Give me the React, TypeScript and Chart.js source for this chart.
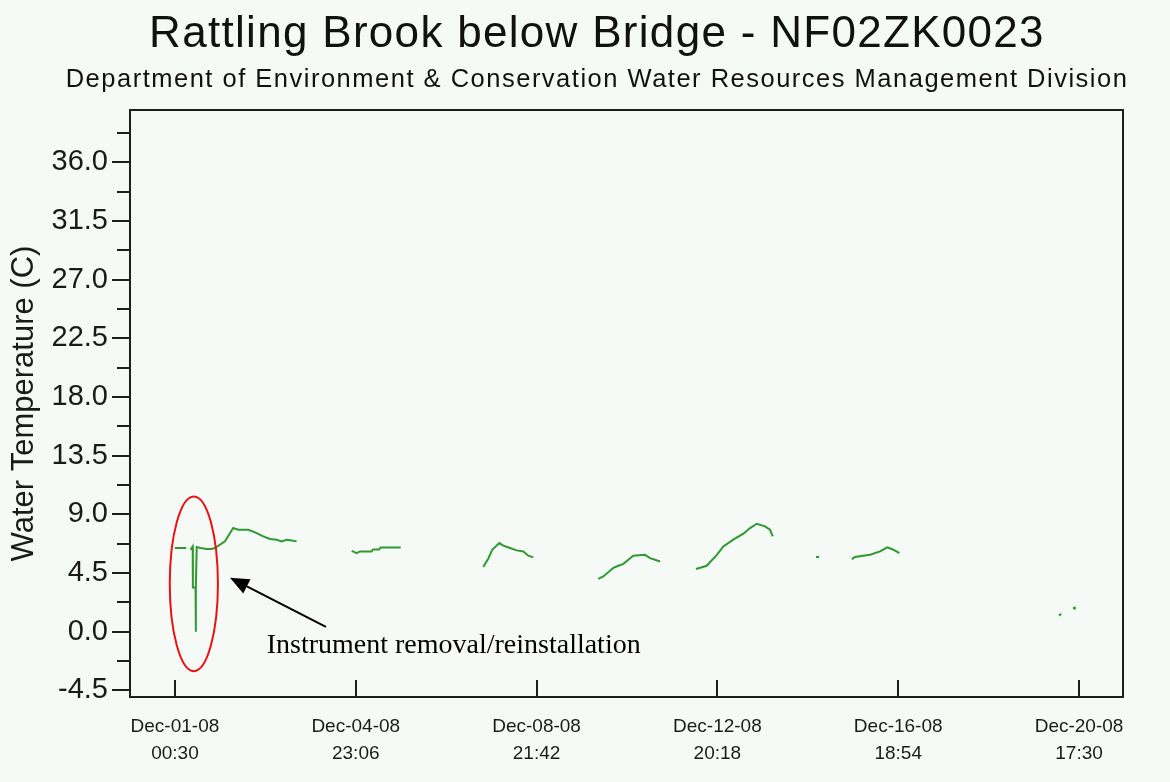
import React, { useEffect, useRef } from 'react';
import { Chart, registerables } from 'chart.js';

Chart.register(...registerables);

const TITLE = 'Rattling Brook below Bridge - NF02ZK0023';
const SUBTITLE = 'Department of Environment & Conservation Water Resources Management Division';
const Y_TITLE = 'Water Temperature (C)';
const NOTE = 'Instrument removal/reinstallation';

// Hours since Dec-01-08 00:30 (null temperature = logging gap)
const hoursSinceStart = [
  0, 5.9, 7.0,
  8.2, 9.3, 9.4, 10.8, 10.9, 11.0, 11.4, 13.5, 16.5, 19.0, 20.9, 26.2, 30.5, 33.1, 38.4, 41.9, 46.2, 49.7, 53.2, 55.8, 58.5, 61.1, 63.7,
  78,
  92.5, 95.1, 96.8, 102.9, 103.6, 106.8, 107.6, 118.1,
  140,
  161.3, 163.9, 166.0, 169.7, 171.8, 175.3, 178.8, 182.3, 184.9, 187.5,
  205,
  221.5, 224.1, 229.4, 232.0, 234.6, 237.2, 239.8, 245.9, 248.6, 253.8,
  263,
  272.6, 278.2, 283.5, 286.9, 292.1, 297.4, 300.9, 304.4, 308.7, 311.3, 312.8,
  324,
  335.4, 337.0,
  345,
  354.1, 355.8, 363.7, 368.9, 372.7, 375.9, 379.0,
  420,
  462.6, 463.6,
  467,
  470.6,
];
const waterTempC: (number | null)[] = [
  6.42, 6.42, null,
  6.29, 6.54, 3.40, 3.40, 0.00, 3.40, 6.50, 6.42, 6.35, 6.35, 6.42, 6.93, 7.95, 7.82, 7.82, 7.62, 7.31, 7.11, 7.06, 6.93, 7.06, 7.00, 6.93,
  null,
  6.20, 6.03, 6.16, 6.16, 6.31, 6.31, 6.47, 6.47,
  null,
  4.96, 5.60, 6.29, 6.80, 6.60, 6.42, 6.24, 6.16, 5.83, 5.70,
  null,
  4.06, 4.24, 4.90, 5.06, 5.21, 5.52, 5.83, 5.90, 5.65, 5.39,
  null,
  4.81, 5.06, 5.90, 6.54, 7.06, 7.52, 7.95, 8.28, 8.08, 7.82, 7.31,
  null,
  5.73, 5.73,
  null,
  5.57, 5.73, 5.90, 6.16, 6.47, 6.29, 6.03,
  null,
  1.23, 1.38,
  null,
  1.82,
];

const xTickHours = [0, 94.6, 189.2, 283.8, 378.4, 473.0];
const xTickDates = ['Dec-01-08', 'Dec-04-08', 'Dec-08-08', 'Dec-12-08', 'Dec-16-08', 'Dec-20-08'];
const xTickTimes = ['00:30', '23:06', '21:42', '20:18', '18:54', '17:30'];

const yTickValues = [-4.5, 0, 4.5, 9, 13.5, 18, 22.5, 27, 31.5, 36];
const yTickLabels = ['-4.5', '0.0', '4.5', '9.0', '13.5', '18.0', '22.5', '27.0', '31.5', '36.0'];
const yMinorTicks = [-2.25, 2.25, 6.75, 11.25, 15.75, 20.25, 24.75, 29.25, 33.75, 38.25];

// Annotation anchors in data units (hours, °C)
const ellipseCenter = { h: 9.9, t: 3.68 };
const ellipseRadius = { h: 12.6, t: 6.7 };
const arrowTail = { h: 79, t: 0.38 };
const arrowTip = { h: 28.8, t: 4.14 };
const noteAnchor = { h: 48, t: -1.6 };

const BG = '#f6faf7';
const LINE = '#2e9a2e';
const SANS = '"Liberation Sans", Arial, sans-serif';

const decor = {
  id: 'decor',
  beforeDraw(chart: any) {
    const { ctx, width, height } = chart;
    ctx.save();
    ctx.fillStyle = BG;
    ctx.fillRect(0, 0, width, height);
    ctx.restore();
  },
  afterDraw(chart: any) {
    const { ctx, chartArea: a } = chart;
    const x = chart.scales.x;
    const y = chart.scales.y;
    ctx.save();
    // frame
    ctx.strokeStyle = '#1e1e1e';
    ctx.lineWidth = 2;
    ctx.strokeRect(a.left, a.top, a.right - a.left, a.bottom - a.top);
    // y ticks (outside)
    ctx.beginPath();
    yTickValues.forEach((v) => {
      const py = Math.round(y.getPixelForValue(v));
      ctx.moveTo(a.left - 18, py);
      ctx.lineTo(a.left, py);
    });
    yMinorTicks.forEach((v) => {
      const py = Math.round(y.getPixelForValue(v));
      ctx.moveTo(a.left - 13, py);
      ctx.lineTo(a.left, py);
    });
    // x ticks (inside)
    xTickHours.forEach((v) => {
      const px = Math.round(x.getPixelForValue(v));
      ctx.moveTo(px, a.bottom);
      ctx.lineTo(px, a.bottom - 17);
    });
    ctx.stroke();

    // titles
    ctx.fillStyle = '#111';
    ctx.textBaseline = 'alphabetic';
    ctx.textAlign = 'left';
    ctx.font = `44px ${SANS}`;
    (ctx as any).letterSpacing = '1.3px';
    let w = ctx.measureText(TITLE).width;
    ctx.fillText(TITLE, 597 - w / 2, 47);
    ctx.font = `25.5px ${SANS}`;
    (ctx as any).letterSpacing = '1.5px';
    w = ctx.measureText(SUBTITLE).width;
    ctx.fillText(SUBTITLE, 597 - w / 2, 87);
    (ctx as any).letterSpacing = '0px';

    // red ellipse
    const cx = x.getPixelForValue(ellipseCenter.h);
    const cy = y.getPixelForValue(ellipseCenter.t);
    const rx = Math.abs(x.getPixelForValue(ellipseCenter.h + ellipseRadius.h) - cx);
    const ry = Math.abs(y.getPixelForValue(ellipseCenter.t + ellipseRadius.t) - cy);
    ctx.beginPath();
    ctx.ellipse(cx, cy, rx, ry, 0, 0, Math.PI * 2);
    ctx.strokeStyle = '#ee1111';
    ctx.lineWidth = 2;
    ctx.stroke();

    // arrow
    const tx = x.getPixelForValue(arrowTail.h), ty = y.getPixelForValue(arrowTail.t);
    const hx = x.getPixelForValue(arrowTip.h), hy = y.getPixelForValue(arrowTip.t);
    const ang = Math.atan2(hy - ty, hx - tx);
    const headLen = 19, headHalf = 8;
    const bx = hx - headLen * Math.cos(ang), by = hy - headLen * Math.sin(ang);
    ctx.strokeStyle = '#000';
    ctx.lineWidth = 2;
    ctx.beginPath();
    ctx.moveTo(tx, ty);
    ctx.lineTo(bx, by);
    ctx.stroke();
    ctx.beginPath();
    ctx.moveTo(hx, hy);
    ctx.lineTo(bx + headHalf * Math.sin(ang), by - headHalf * Math.cos(ang));
    ctx.lineTo(bx - headHalf * Math.sin(ang), by + headHalf * Math.cos(ang));
    ctx.closePath();
    ctx.fillStyle = '#000';
    ctx.fill();

    // note text
    ctx.font = `28px "Liberation Serif", "Times New Roman", serif`;
    ctx.fillStyle = '#000';
    ctx.fillText(NOTE, x.getPixelForValue(noteAnchor.h), y.getPixelForValue(noteAnchor.t));
    ctx.restore();
  },
};

export default function App() {
  const ref = useRef<HTMLCanvasElement | null>(null);
  useEffect(() => {
    if (!ref.current) return;
    const points = hoursSinceStart.map((h, i) => ({ x: h, y: waterTempC[i] }));
    const chart = new Chart(ref.current, {
      type: 'line',
      data: {
        datasets: [
          {
            data: points as any,
            borderColor: LINE,
            backgroundColor: LINE,
            borderWidth: 2,
            spanGaps: false,
            tension: 0,
            pointRadius: (c: any) => {
              const i = c.dataIndex;
              const cur = waterTempC[i];
              const prev = waterTempC[i - 1];
              const next = waterTempC[i + 1];
              return cur != null && prev == null && next == null ? 1.6 : 0;
            },
            pointHoverRadius: 0,
            pointBorderWidth: 0,
          },
        ],
      },
      options: {
        responsive: false,
        devicePixelRatio: 1,
        animation: false,
        events: [],
        layout: { padding: { top: 110, right: 47, left: 0, bottom: 0 } },
        plugins: { legend: { display: false }, tooltip: { enabled: false }, title: { display: false } },
        scales: {
          x: {
            type: 'linear',
            min: -23.5,
            max: 496,
            grid: { display: false, drawTicks: false },
            border: { display: false },
            afterBuildTicks: (s: any) => {
              s.ticks = xTickHours.map((v) => ({ value: v }));
            },
            afterFit: (s: any) => {
              s.height = 85;
            },
            ticks: {
              autoSkip: false,
              maxRotation: 0,
              padding: 16,
              color: '#1a1a1a',
              font: { family: SANS, size: 19, lineHeight: '27px' as any },
              callback: (_v: any, i: number) => [xTickDates[i], xTickTimes[i]],
            },
          },
          y: {
            type: 'linear',
            min: -5,
            max: 40,
            grid: { display: false, drawTicks: false },
            border: { display: false },
            afterBuildTicks: (s: any) => {
              s.ticks = yTickValues.map((v) => ({ value: v }));
            },
            afterFit: (s: any) => {
              s.width = 130;
            },
            ticks: {
              autoSkip: false,
              padding: 22,
              color: '#1a1a1a',
              font: { family: SANS, size: 29 },
              callback: (_v: any, i: number) => yTickLabels[i],
            },
            title: {
              display: true,
              text: Y_TITLE,
              color: '#1a1a1a',
              font: { family: SANS, size: 31 },
              padding: { top: 6, bottom: 0 },
            },
          },
        },
      },
      plugins: [decor],
    });
    return () => chart.destroy();
  }, []);
  return (
    <div style={{ position: 'absolute', left: 0, top: 0, width: 1170, height: 782, background: BG }}>
      <canvas ref={ref} width={1170} height={782} style={{ display: 'block' }} />
    </div>
  );
}
